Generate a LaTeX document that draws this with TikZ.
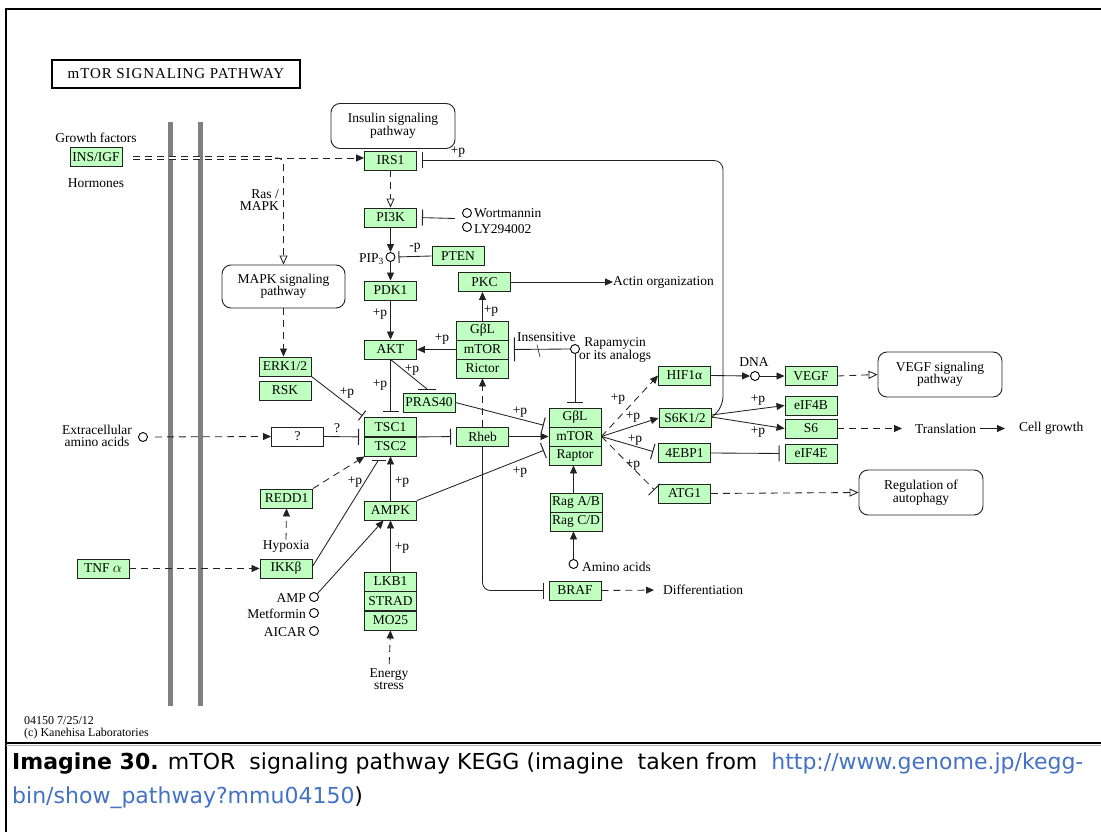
\documentclass[tikz,border=0pt]{standalone}
\usepackage{fontspec}
\setmainfont{Liberation Serif}
\newfontfamily\capfont{DejaVu Sans}
\newfontfamily\titlefont[LetterSpace=6]{Liberation Serif}
\usetikzlibrary{arrows.meta}
\definecolor{kgreen}{HTML}{BFFFBF}
\definecolor{kline}{HTML}{222222}
\definecolor{linkblue}{RGB}{68,114,196}
\definecolor{membr}{HTML}{808080}
\newcommand\kf{\fontsize{13.5}{14}\selectfont}
\newcommand\kfs{\fontsize{13.5}{12.5}\selectfont}
\begin{document}
\begin{tikzpicture}[x=1pt,y=-1pt,
  every node/.style={font=\kf, inner sep=0pt},
  gene/.style={draw=kline, fill=kgreen, minimum width=52pt, minimum height=19pt, line width=0.9pt},
  qbox/.style={gene, fill=white},
  pathbox/.style={draw=kline, rounded corners=9pt, minimum width=124pt, minimum height=45pt, align=center, line width=0.9pt, font=\kfs},
  cpd/.style={circle, draw=black, minimum size=9pt, line width=0.9pt, fill=white},
  con/.style={draw=kline, line width=0.85pt},
  act/.style={con, -{Triangle[length=8pt,width=7pt]}},
  actopen/.style={con, -{Triangle[open,length=9pt,width=8pt]}},
  inh/.style={con, -{Bar[width=16pt,line width=1pt]}, shorten >=5pt},
  dsh/.style={dash pattern=on 7pt off 5pt},
]
\useasboundingbox (0,0) rectangle (1101,832);
\fill[white] (0,0) rectangle (1101,832);

% frame
\draw[line width=2pt] (6,832) -- (6,9) -- (1101,9);
\draw[line width=2pt] (6,743) -- (1101,743);
\draw[line width=1pt, gray!60] (6,745.5) -- (1101,745.5);

% membranes
\draw[line width=5pt, membr] (170,122) -- (170,706);
\draw[line width=5pt, membr] (200,122) -- (200,706);

% title
\node[draw, line width=2.5pt, minimum width=248pt, minimum height=28pt] (title) at (176,74)
  {\titlefont\fontsize{15}{15}\selectfont mTOR\ SIGNALING\ PATHWAY};

% genes
\node[gene] (insigf) at (96,157) {INS/IGF};
\node[gene] (irs1) at (390.5,160.5) {IRS1};
\node[gene] (pi3k) at (390.5,217.5) {PI3K};
\node[gene] (pten) at (458,256) {PTEN};
\node[gene] (pdk1) at (390.5,290.5) {PDK1};
\node[gene] (pkc) at (484.5,282) {PKC};
\node[gene] (akt) at (390.5,349.5) {AKT};
\node[gene] (c2a) at (482.5,330.5) {GβL};
\node[gene] (c2b) at (482.5,349.5) {mTOR};
\node[gene] (c2c) at (482.5,368.5) {Rictor};
\node[gene] (pras40) at (429,402.5) {PRAS40};
\node[gene] (tsc1) at (390.5,427) {TSC1};
\node[gene] (tsc2) at (390.5,446.5) {TSC2};
\node[gene] (rheb) at (482.5,436.5) {Rheb};
\node[gene] (c1a) at (575,417.5) {GβL};
\node[gene] (c1b) at (575,436.5) {mTOR};
\node[gene] (c1c) at (575,455.5) {Raptor};
\node[gene] (hif) at (684.5,375.5) {HIF1α};
\node[gene] (s6k) at (685,418) {S6K1/2};
\node[gene] (ebp) at (684.5,453) {4EBP1};
\node[gene] (atg1) at (684.5,493.5) {ATG1};
\node[gene] (vegf) at (811,376) {VEGF};
\node[gene] (eif4b) at (811,405.5) {eIF4B};
\node[gene] (s6) at (811,428.5) {S6};
\node[gene] (eif4e) at (811,453.5) {eIF4E};
\node[gene] (erk) at (285,366.5) {ERK1/2};
\node[gene] (rsk) at (285,390.5) {RSK};
\node[qbox] (qq) at (297.5,436.5) {?};
\node[gene] (redd1) at (286.5,498.5) {REDD1};
\node[gene] (ikkb) at (286,568.5) {IKKβ};
\node[gene] (tnfa) at (103,568.5) {TNF $\alpha$};
\node[gene] (ampk) at (390.5,510.5) {AMPK};
\node[gene] (lkb1) at (390.5,581.5) {LKB1};
\node[gene] (strad) at (390.5,601) {STRAD};
\node[gene] (mo25) at (390.5,620.5) {MO25};
\node[gene] (raga) at (576,502.5) {Rag A/B};
\node[gene] (ragc) at (576,521.5) {Rag C/D};
\node[gene] (braf) at (575,590.5) {BRAF};

% pathway maps
\node[pathbox] (insp) at (393,126) {Insulin signaling\\pathway};
\node[pathbox, minimum width=123pt, minimum height=43pt] (mapkp) at (283.5,286.5) {MAPK signaling\\pathway};
\node[pathbox] (vegfp) at (940,374.5) {VEGF signaling\\pathway};
\node[pathbox] (autop) at (921,492.5) {Regulation of\\autophagy};

% compounds
\node[cpd] (wort) at (467,213) {};
\node[cpd] (ly) at (467,227) {};
\node[cpd] (pip3) at (390.5,257) {};
\node[cpd] (rapa) at (575,349) {};
\node[cpd] (dna) at (755,376) {};
\node[cpd] (aa) at (573.5,564) {};
\node[cpd] (eaa) at (143,437) {};
\node[cpd] (amp) at (314,597) {};
\node[cpd] (metf) at (314,613) {};
\node[cpd] (aicar) at (314,631) {};

% text labels
\node (gf) at (96,138) {Growth factors};
\node (horm) at (96,183) {Hormones};
\node[align=right, anchor=east, font=\kfs] (ras) at (279,200) {Ras /\\MAPK};
\node[anchor=west] (wortl) at (474,213) {Wortmannin};
\node[anchor=west] (lyl) at (474,229) {LY294002};
\node[anchor=east] (pip3l) at (384,259) {PIP\textsubscript{3}};
\node[anchor=west] (actin) at (613,282) {Actin organization};
\node[anchor=west] (insl) at (517,337) {Insensitive};
\node[align=center, font=\kfs] (rapal) at (615,350) {Rapamycin\\or its analogs};
\node[align=center, font=\kfs] (eaal) at (97,436) {Extracellular\\amino acids};
\node (hyp) at (286,546) {Hypoxia};
\node[anchor=east] (ampl) at (306,598) {AMP};
\node[anchor=east] (metfl) at (306,614) {Metformin};
\node[anchor=east] (aicarl) at (306,632) {AICAR};
\node[align=center, font=\kfs] (energy) at (389,679) {Energy\\stress};
\node[anchor=west] (aal) at (582,567) {Amino acids};
\node[anchor=west] (diff) at (663,590) {Differentiation};
\node (dnal) at (754,362) {DNA};
\node[anchor=west] (transl) at (915,428.5) {Translation};
\node[anchor=west] (cellg) at (1019,428.5) {Cell growth};

% reaction labels
\node (lfb) at (458,152) {+p};
\node (lmp) at (415,248) {-p};
\node (lp1) at (380,314) {+p};
\node (lp2) at (442,339) {+p};
\node (lp3) at (491,311) {+p};
\node (lp4) at (380,385) {+p};
\node (lp5) at (412,370) {+p};
\node (lp6) at (520,412) {+p};
\node (lp7) at (520,472) {+p};
\node (lp8) at (402,482) {+p};
\node (lp9) at (402,548) {+p};
\node (lp10) at (355,482) {+p};
\node (lp11) at (347,393) {+p};
\node (lq) at (337,428) {?};
\node (lp12) at (618,399) {+p};
\node (lp13) at (633,417) {+p};
\node (lp14) at (635,440) {+p};
\node (lp15) at (633,465) {+p};
\node (lp16) at (758,400) {+p};
\node (lp17) at (758,432) {+p};

% footer and caption
\node[anchor=west, align=left, font=\fontsize{12}{12.5}\selectfont] (foot) at (24,728) {04150 7/25/12\\(c) Kanehisa Laboratories};
\node[anchor=base west, font=\capfont\fontsize{22}{34}\selectfont] (cap1) at (12,769)
  {\textbf{Imagine 30.} mTOR\ \ signaling pathway KEGG (imagine\ \ taken from\ \ \textcolor{linkblue}{http://www.genome.jp/kegg-}};
\node[anchor=base west, font=\capfont\fontsize{22}{34}\selectfont] (cap2) at (12,803)
  {\textcolor{linkblue}{bin/show\_pathway?mmu04150})};

% ---------- connectors ----------
\coordinate (dblstart) at (133,158);
\coordinate (dblend) at (275,158);
\draw[con, dsh, double, double distance=2pt, line width=0.7pt] (dblstart) -- (dblend);
\draw[act, dsh] (dblend) -- (irs1.west |- dblend);
\draw[actopen, dsh, rounded corners=6pt] (dblend) -| (mapkp.north);
\draw[actopen, dsh] (irs1.south) -- (pi3k.north);
\coordinate (wl) at (455,218.5);
\draw[inh] (wl) -- (pi3k.east);
\draw[act] (pi3k.south) -- (pip3.north);
\draw[act] (pip3.south) -- (pdk1.north);
\draw[con, -{Bar[width=12pt,line width=1pt]}, shorten >=3pt] (pten.west) -- (pip3.east);
\draw[act] (pdk1.south) -- (akt.north);
\draw[act] (c2b.west) -- (akt.east);
\draw[act] (c2a.north) -- (c2a.north |- pkc.south);
\draw[act] (pkc.east) -- (actin.west);
\draw[con, -{Bar[width=24pt,line width=1pt]}, shorten >=5pt] (rapa.west) -- (c2b.east);
\draw[inh] (rapa.south) -- (c1a.north);
\coordinate (tk) at (540,357);
\draw[con, line width=0.6pt] ([xshift=20pt,yshift=-3pt]insl.south west) -- (tk);
\draw[inh] (akt.south) -- (tsc1.north);
\coordinate (prb) at (427,389);
\draw[con] (akt.south) -- (prb);
\draw[con, line width=1pt] ([xshift=-9pt]prb) -- ([xshift=9pt]prb);
\draw[inh] (pras40.east) -- ([yshift=10pt]c1b.west);
\draw[inh] (tsc1.south east) -- (rheb.west);
\draw[act] (rheb.east) -- (c1b.west);
\draw[act, dsh] (rheb.north) -- (c2c.south);
\draw[inh, rounded corners=8pt] (rheb.south) |- (braf.west);
\draw[act, dsh, shorten >=9pt] (braf.east) -- (diff.west);
\draw[act] (aa.north |- raga.north) -- (aa.north |- c1c.south);
\draw[act] (aa.north) -- (aa.north |- ragc.south);
\draw[inh] (ampk.north east) -- ([yshift=7pt]c1c.west);
\draw[act] (ampk.north) -- (tsc2.south);
\draw[act] (lkb1.north) -- (ampk.south);
\draw[act, dsh, shorten <=4pt] (energy.north) -- (mo25.south);
\draw[act] (amp.north east) -- ([xshift=-7pt]ampk.south);
\draw[act, dsh] (tnfa.east) -- (ikkb.west);
\coordinate (ikb) at (378.5,460);
\draw[con] ([yshift=2pt]ikkb.east) -- (ikb);
\draw[con, line width=1pt] ([xshift=-7pt]ikb) -- ([xshift=7pt]ikb);
\draw[act, dsh] (redd1.north east) -- ([xshift=-26pt]tsc2.south);
\draw[act, dsh] (hyp.north) -- (redd1.south);
\draw[act, dsh] (mapkp.south) -- (mapkp.south |- erk.north);
\draw[con, -{Bar[width=12pt,line width=1pt]}, shorten >=2pt] (erk.south east) -- (tsc1.north west);
\draw[act, dsh, shorten <=7pt] (eaa.east) -- (qq.west);
\draw[inh] (qq.east) -- (tsc1.south west);
\draw[act, dsh] (c1b.east) -- (hif.west);
\draw[act] (c1b.east) -- (s6k.west);
\draw[inh] (c1b.east) -- (ebp.west);
\draw[inh, dsh] (c1b.east) -- (atg1.west);
\draw[act] (hif.east) -- (dna.west);
\draw[act] (dna.east) -- (vegf.west);
\draw[actopen, dsh] (vegf.east) -- (vegfp.west);
\draw[act] ([yshift=3pt]s6k.east) -- (eif4b.west);
\draw[act] ([yshift=1pt]s6k.east) -- (s6.west);
\coordinate (fb) at (723,406);
\draw[inh, rounded corners=9pt] (s6k.east) -- (fb) |- (irs1.east);
\draw[inh] (ebp.east) -- (eif4e.west);
\draw[act, dsh, shorten >=13pt] (s6.east) -- (transl.west);
\draw[act, shorten <=4pt, shorten >=14pt] (transl.east) -- (cellg.west);
\draw[actopen, dsh] (atg1.east) -- (autop.west);
\end{tikzpicture}
\end{document}
